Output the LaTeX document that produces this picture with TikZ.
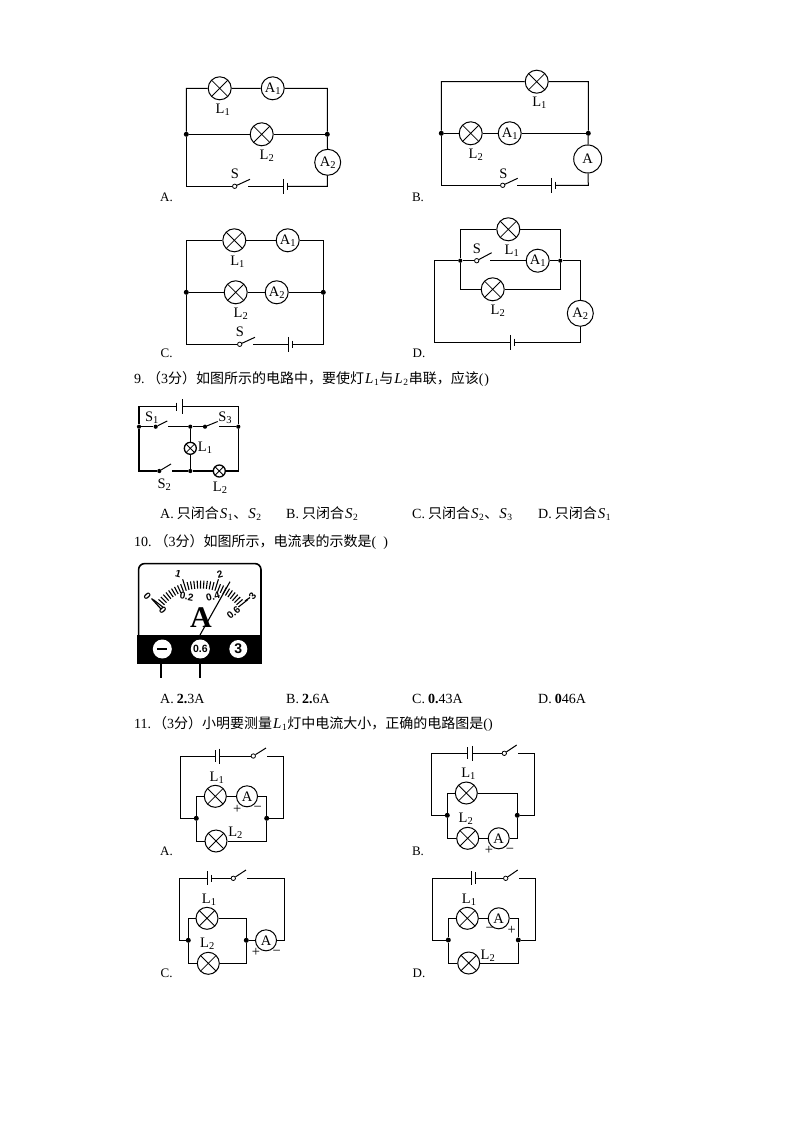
\documentclass[tikz,border=0pt]{standalone}
\usepackage{fontspec}
\setmainfont{Liberation Serif}
\newfontfamily\cjk{Noto Sans CJK SC}
\newfontfamily\msans{Liberation Sans}
\newcommand\lsub[2]{#1\raisebox{-2pt}{\fontsize{10.5}{11}\selectfont #2}}
\newcommand\misub[2]{\hspace{1pt}{\fontsize{15}{16}\selectfont\textit{#1}}\hspace{0.5pt}\raisebox{-2pt}{\fontsize{9.5}{10}\selectfont #2}\hspace{0.7pt}}
\newcommand\batt[6]{\coordinate (#11) at (#2,#4);\coordinate (#12) at (#3,#4);
  \draw[wire] (#11)+(0,-#5) -- +(0,#5);\draw[wire] (#12)+(0,-#6) -- +(0,#6);}
\newcommand\swt[7][swdot]{\node[#1] (#2) at (#3,#4) {};\coordinate (#2t) at (#5,#6);\coordinate (#2r) at (#7,#4);
  \draw[wire] (#2) -- (#2t);}
\tikzset{
  wire/.style={draw=black,line width=1pt},
  lamp/.style={circle,draw=black,line width=1pt,minimum size=23pt,inner sep=0pt,fill=white,
    path picture={\draw[line width=0.8pt] (path picture bounding box.north west)--(path picture bounding box.south east)
      (path picture bounding box.north east)--(path picture bounding box.south west);}},
  slamp/.style={lamp,minimum size=12pt,line width=1.3pt},
  amm/.style={circle,draw=black,line width=1pt,minimum size=23pt,inner sep=0pt,fill=white,font=\fontsize{14.5}{15}\selectfont},
  jdot/.style={circle,fill=black,minimum size=5pt,inner sep=0pt},
  swdot/.style={circle,draw=black,line width=0.8pt,fill=white,minimum size=4.4pt,inner sep=0pt},
  fdot/.style={circle,fill=black,minimum size=4.2pt,inner sep=0pt},
  lab/.style={inner sep=0pt,font=\fontsize{14.5}{15}\selectfont},
  letter/.style={inner sep=0pt,font=\fontsize{13}{14}\selectfont},
  qtext/.style={inner sep=0pt,anchor=west,font=\fontsize{14}{16}\selectfont},
  opt/.style={inner sep=0pt,anchor=west,font=\fontsize{14}{16}\selectfont},
  term/.style={circle,fill=white,inner sep=0pt,font=\msans\bfseries\fontsize{10.5}{11}\selectfont},
  scale lab/.style={inner sep=0pt,font=\msans\bfseries\fontsize{10}{10}\selectfont}
}
\begin{document}
\begin{tikzpicture}[x=1pt,y=-1pt]
\useasboundingbox (0,0) rectangle (794,1123);
\fill[white] (0,0) rectangle (794,1123);
% ---------- Panel A
\coordinate (atl) at (186.3,88.3);\coordinate (atr) at (327.3,88.3);
\coordinate (abl) at (186.3,186.3);\coordinate (abr) at (327.3,186.3);
\node[jdot] (aml) at (186.3,134.3) {};\node[jdot] (amr) at (327.3,134.3) {};
\node[lamp] (aL1) at (219.7,88.3) {};\node[amm] (aA1) at (272.7,88.3) {\lsub{A}{1}};
\node[lamp] (aL2) at (261.7,134.3) {};\node[amm,minimum size=26pt] (aA2) at (327.7,162.3) {\lsub{A}{2}};
\swt{asw}{234.7}{186.3}{250}{179.3}{248.3}
\batt{ab}{283.3}{287}{186.3}{7.5}{3.7}
\draw[wire] (aml)--(atl)--(aL1)--(aA1)--(atr)--(amr)--(aA2)--(abr)--(ab2);
\draw[wire] (ab1)--(aswr);
\draw[wire] (asw)--(abl)--(aml)--(aL2)--(amr);
\node[lab] at (235,174) {S};\node[lab] at (222.7,109.5) {\lsub{L}{1}};\node[lab] at (266.7,156) {\lsub{L}{2}};
\node[letter] at (166.5,197) {A.};
% ---------- Panel B
\coordinate (btl) at (441.3,81.7);\coordinate (btr) at (588.3,81.7);
\coordinate (bbl) at (441.3,185.3);\coordinate (bbr) at (588.3,185.3);
\node[jdot] (bml) at (441.3,133.3) {};\node[jdot] (bmr) at (588.3,133.3) {};
\node[lamp] (bL1) at (536.7,81.7) {};\node[lamp] (bL2) at (470.7,133.3) {};
\node[amm] (bA1) at (509.7,133.3) {\lsub{A}{1}};\node[amm,minimum size=28pt] (bA) at (587.7,159) {A};
\swt{bsw}{502.7}{185.3}{517.7}{178.3}{516.7}
\batt{bb}{551.7}{555.7}{185.3}{7.5}{3.7}
\draw[wire] (bml)--(btl)--(bL1)--(btr)--(bmr)--(bA)--(bbr)--(bb2);
\draw[wire] (bb1)--(bswr);
\draw[wire] (bsw)--(bbl)--(bml)--(bL2)--(bA1)--(bmr);
\node[lab] at (503.3,173.3) {S};\node[lab] at (539.3,103) {\lsub{L}{1}};\node[lab] at (475.7,154.5) {\lsub{L}{2}};
\node[letter] at (418,197) {B.};
% ---------- Panel C
\coordinate (ctl) at (186.3,240.3);\coordinate (ctr) at (323.3,240.3);
\coordinate (cbl) at (186.3,344.3);\coordinate (cbr) at (323.3,344.3);
\node[jdot] (cml) at (186.3,292.3) {};\node[jdot] (cmr) at (323.3,292.3) {};
\node[lamp] (cL1) at (234.3,240.3) {};\node[amm] (cA1) at (287.7,240.3) {\lsub{A}{1}};
\node[lamp] (cL2) at (235.7,292.3) {};\node[amm] (cA2) at (276.7,292.3) {\lsub{A}{2}};
\swt{csw}{239.7}{344.3}{255}{337.3}{253.3}
\batt{cb}{288.3}{292.3}{344.3}{7.5}{3.7}
\draw[wire] (cml)--(ctl)--(cL1)--(cA1)--(ctr)--(cmr)--(cbr)--(cb2);
\draw[wire] (cb1)--(cswr);
\draw[wire] (csw)--(cbl)--(cml)--(cL2)--(cA2)--(cmr);
\node[lab] at (240,332) {S};\node[lab] at (237.3,261.5) {\lsub{L}{1}};\node[lab] at (240.7,313.5) {\lsub{L}{2}};
\node[letter] at (166.7,353) {C.};
% ---------- Panel D
\coordinate (dtl) at (460.3,229.3);\coordinate (dtr) at (560.3,229.3);
\coordinate (dbl) at (460.3,289.3);\coordinate (dbr) at (560.3,289.3);
\node[fdot] (dml) at (460.3,260.7) {};\node[fdot] (dmr) at (560.3,260.7) {};
\coordinate (dol) at (434.3,260.7);\coordinate (dor) at (580.3,260.7);
\coordinate (dobl) at (434.3,342.3);\coordinate (dobr) at (580.3,342.3);
\node[lamp] (dL1) at (508.3,229.3) {};\node[amm] (dA1) at (537.7,260.7) {\lsub{A}{1}};
\node[lamp] (dL2) at (492.7,289.3) {};\node[amm,minimum size=26pt] (dA2) at (580.3,313.3) {\lsub{A}{2}};
\swt{dsw}{476.7}{260.7}{491.7}{252.7}{490}
\batt{db}{510.7}{514.7}{342.3}{7.5}{3.7}
\draw[wire] (dml)--(dtl)--(dL1)--(dtr)--(dmr)--(dbr)--(dL2)--(dbl)--(dml);
\draw[wire] (dol)--(dml)--(dsw);
\draw[wire] (dswr)--(dA1)--(dmr)--(dor)--(dA2)--(dobr)--(db2);
\draw[wire] (db1)--(dobl)--(dol);
\node[lab] at (477,248.3) {S};\node[lab] at (511.7,250.5) {\lsub{L}{1}};\node[lab] at (497.7,311) {\lsub{L}{2}};
\node[letter] at (419,353) {D.};
% ---------- Question 9
\node[qtext] (q9) at (134,378.5) {9.\hspace{2.5pt}{\cjk（}3{\cjk 分）如图所示的电路中，要使灯}\misub{L}{1}{\cjk 与}\misub{L}{2}{\cjk 串联，应该}(\hspace{1pt})};
\coordinate (ntl) at (139,406.7);\coordinate (ntr) at (238.3,406.7);
\coordinate (nbl) at (139,471);\coordinate (nbr) at (238.3,471);
\node[fdot] (nml) at (139,426.7) {};\node[fdot] (nmr) at (238.3,426.7) {};
\node[fdot] (nj1) at (190.3,426.7) {};\node[fdot] (nj2) at (190.3,471) {};
\node[slamp] (nL1) at (190.3,448.3) {};\node[slamp] (nL2) at (219.3,471) {};
\batt{nb}{176.7}{182.3}{406.7}{4}{7.5}
\swt[fdot]{ns1}{155.7}{426.7}{167.3}{421}{168.3}
\swt[fdot]{ns3}{205}{426.7}{217.7}{421.5}{219}
\swt[fdot]{ns2}{159.3}{471}{171}{464}{172.3}
\begin{scope}[wire/.append style={line width=1.1pt}]
\draw[wire] (nb1)--(ntl)--(nml)--(ns1);
\draw[wire] (ns1r)--(nj1)--(ns3);
\draw[wire] (ns3r)--(nmr)--(ntr)--(nb2);
\draw[wire] (nml)--(nbl)--(ns2);
\draw[wire] (ns2r)--(nj2)--(nL2)--(nbr)--(nmr);
\draw[wire] (nj1)--(nL1)--(nj2);
\end{scope}
\node[lab] at (151.7,417.5) {\lsub{S}{1}};\node[lab] at (225,417.5) {\lsub{S}{3}};
\node[lab] at (205,448) {\lsub{L}{1}};\node[lab] at (164.3,485) {\lsub{S}{2}};\node[lab] at (220,488) {\lsub{L}{2}};
\node[opt] at (160,514) {A.\hspace{3pt}{\cjk 只闭合}\misub{S}{1}{\cjk 、}\misub{S}{2}};
\node[opt] at (286,514) {B.\hspace{3pt}{\cjk 只闭合}\misub{S}{2}};
\node[opt] at (412,514) {C.\hspace{3pt}{\cjk 只闭合}\misub{S}{2}{\cjk 、}\misub{S}{3}};
\node[opt] at (538,514) {D.\hspace{3pt}{\cjk 只闭合}\misub{S}{1}};
% ---------- Question 10
\node[qtext] (q10) at (134,542) {10.\hspace{3pt}{\cjk（}3{\cjk 分）如图所示，电流表的示数是}(\hspace{7pt})};
\draw[line width=1.6pt,fill=white,rounded corners=6pt] (138.6,640)--(138.6,563.6)--(261,563.6)--(261,640);
\fill[black] (137.3,634.7) rectangle (262,664);
\draw[line width=1.8pt] (161,664)--(161,678.3) (199.7,664)--(199.7,678.3);
\node[term,minimum size=19pt] (tneg) at (162.3,649) {\rule{10pt}{2pt}};
\node[term,minimum size=19pt] (t06) at (200.3,649) {0.6};
\node[term,minimum size=18pt,font=\msans\bfseries\fontsize{14}{14}\selectfont] (t3) at (238.3,649) {3};
\coordinate (piv) at (200.5,636.5);
\foreach \i in {0,...,30}{
  \pgfmathsetmacro{\ang}{142-\i*3.47}
  \pgfmathsetmacro{\ro}{mod(\i,10)==0?60:56}
  \draw[line width=1.1pt] ([shift={(\ang:48pt)}]piv) -- ([shift={(\ang:\ro pt)}]piv);
}
\draw[line width=1.2pt] (151.5,598.5)--(161,609);
\draw[line width=1.2pt] (245,601)--(250,597.5);
\node[scale lab,rotate=-48] at (147.3,596.7) {0};
\node[scale lab,rotate=-48] at (162.7,610) {0};
\node[scale lab,rotate=-15] at (178.3,574) {1};
\node[scale lab,rotate=15] at (220,574) {2};
\node[scale lab,rotate=50] at (252.5,596) {3};
\node[scale lab,rotate=-10] at (186.7,596.5) {0.2};
\node[scale lab,rotate=15] at (213,596.5) {0.4};
\node[scale lab,rotate=40] at (233.5,612.5) {0.6};
\node[inner sep=0pt,font=\bfseries\fontsize{30}{30}\selectfont] (bigA) at (201,618) {A};
\draw[line width=1.1pt] (200,635)--(230,581.7);
\node[opt] at (160,699) {A.\hspace{3pt}\textbf{2.}3A};
\node[opt] at (286,699) {B.\hspace{3pt}\textbf{2.}6A};
\node[opt] at (412,699) {C.\hspace{3pt}\textbf{0.}43A};
\node[opt] at (538,699) {D.\hspace{3pt}\textbf{0}46A};
% ---------- Question 11
\node[qtext] (q11) at (134,724) {11.\hspace{2pt}{\cjk（}3{\cjk 分）小明要测量}\misub{L}{1}{\cjk 灯中电流大小，正确的电路图是}()};
% 11 A
\coordinate (pt1) at (180.3,756);\coordinate (pt2) at (283.7,756);
\coordinate (pm1) at (180.3,818.3);\coordinate (pm2) at (283.7,818.3);
\node[jdot] (pj1) at (196.3,818.3) {};\node[jdot] (pj2) at (266.7,818.3) {};
\coordinate (pi1) at (196.3,796.3);\coordinate (pi2) at (266.7,796.3);
\coordinate (pi3) at (196.3,841);\coordinate (pi4) at (266.7,841);
\node[lamp,minimum size=22pt] (pL1) at (215.3,796.3) {};\node[amm,minimum size=21pt] (pA) at (247,796.3) {A};
\node[lamp,minimum size=22pt] (pL2) at (216,841) {};
\batt{pb}{215}{219}{756}{6}{7.5}
\swt{psw}{253.3}{756}{266}{748}{267.3}
\draw[wire] (pb1)--(pt1)--(pm1)--(pj1)--(pi1)--(pL1)--(pA)--(pi2)--(pj2)--(pm2)--(pt2)--(pswr);
\draw[wire] (pb2)--(psw);
\draw[wire] (pj1)--(pi3)--(pL2)--(pi4)--(pj2);
\node[lab] at (216.7,777.7) {\lsub{L}{1}};\node[lab] at (235.3,833) {\lsub{L}{2}};
\node[lab] at (237.3,809) {+};\node[lab] at (257.7,809) {\textminus};
\node[letter] at (166.5,851.7) {A.};
% 11 B
\coordinate (qt1) at (431.7,753.3);\coordinate (qt2) at (534.7,753.3);
\coordinate (qm1) at (431.7,815.3);\coordinate (qm2) at (534.7,815.3);
\node[jdot] (qj1) at (447.3,815.3) {};\node[jdot] (qj2) at (517.3,815.3) {};
\coordinate (qi1) at (447.3,793);\coordinate (qi2) at (517.3,793);
\coordinate (qi3) at (447.3,838.3);\coordinate (qi4) at (517.3,838.3);
\node[lamp,minimum size=22pt] (qL1) at (466.3,793) {};\node[lamp,minimum size=22pt] (qL2) at (467.7,838.3) {};
\node[amm,minimum size=21pt] (qA) at (498.7,838.3) {A};
\batt{qb}{467.7}{472}{753.3}{6}{7.5}
\swt{qsw}{504.3}{753.3}{516.7}{745}{518.3}
\draw[wire] (qb1)--(qt1)--(qm1)--(qj1)--(qi1)--(qL1)--(qi2)--(qj2)--(qm2)--(qt2)--(qswr);
\draw[wire] (qb2)--(qsw);
\draw[wire] (qj1)--(qi3)--(qL2)--(qA)--(qi4)--(qj2);
\node[lab] at (468.3,773.5) {\lsub{L}{1}};\node[lab] at (465.7,819) {\lsub{L}{2}};
\node[lab] at (489,850.7) {+};\node[lab] at (510,850.7) {\textminus};
\node[letter] at (418,851.7) {B.};
% 11 C
\coordinate (rt1) at (179.3,878.3);\coordinate (rt2) at (284.7,878.3);
\coordinate (rm1) at (179.3,940.3);\coordinate (rm2) at (284.7,940.3);
\node[jdot] (rj1) at (188.3,940.3) {};\node[jdot] (rj2) at (246.3,940.3) {};
\coordinate (ri1) at (188.3,918.3);\coordinate (ri2) at (246.3,918.3);
\coordinate (ri3) at (188.3,963.3);\coordinate (ri4) at (246.3,963.3);
\node[lamp,minimum size=22pt] (rL1) at (207,918.3) {};\node[lamp,minimum size=22pt] (rL2) at (208.3,963.3) {};
\node[amm,minimum size=21pt] (rA) at (266,940.3) {A};
\batt{rb}{207.3}{211.3}{878.3}{7}{3.5}
\swt{rsw}{233.3}{878.3}{246}{870}{247.3}
\draw[wire] (rb1)--(rt1)--(rm1)--(rj1)--(ri1)--(rL1)--(ri2)--(rj2)--(rA)--(rm2)--(rt2)--(rswr);
\draw[wire] (rb2)--(rsw);
\draw[wire] (rj1)--(ri3)--(rL2)--(ri4)--(rj2);
\node[lab] at (209,899.5) {\lsub{L}{1}};\node[lab] at (207.3,944) {\lsub{L}{2}};
\node[lab] at (256,952.7) {+};\node[lab] at (276.7,952.7) {\textminus};
\node[letter] at (166.7,973) {C.};
% 11 D
\coordinate (st1) at (432.3,878.3);\coordinate (st2) at (535.7,878.3);
\coordinate (sm1) at (432.3,940);\coordinate (sm2) at (535.7,940);
\node[jdot] (sj1) at (448.3,940) {};\node[jdot] (sj2) at (518.3,940) {};
\coordinate (si1) at (448.3,918.3);\coordinate (si2) at (518.3,918.3);
\coordinate (si3) at (448.3,963);\coordinate (si4) at (518.3,963);
\node[lamp,minimum size=22pt] (sL1) at (467.3,918.3) {};\node[amm,minimum size=21pt] (sA) at (498.7,918.3) {A};
\node[lamp,minimum size=22pt] (sL2) at (468.7,963) {};
\batt{sb}{471.7}{475.7}{878.3}{7}{6}
\swt{ssw}{505.7}{878.3}{517.7}{870}{519}
\draw[wire] (sb1)--(st1)--(sm1)--(sj1)--(si1)--(sL1)--(sA)--(si2)--(sj2)--(sm2)--(st2)--(sswr);
\draw[wire] (sb2)--(ssw);
\draw[wire] (sj1)--(si3)--(sL2)--(si4)--(sj2);
\node[lab] at (469,899.5) {\lsub{L}{1}};\node[lab] at (487.7,956) {\lsub{L}{2}};
\node[lab] at (489.7,930) {\textminus};\node[lab] at (511.7,930.7) {+};
\node[letter] at (419,973) {D.};
\end{tikzpicture}
\end{document}
